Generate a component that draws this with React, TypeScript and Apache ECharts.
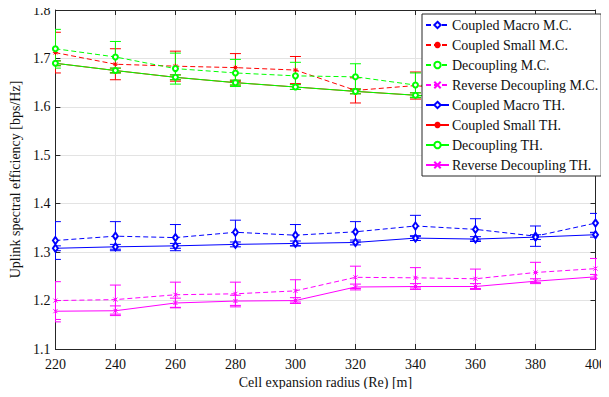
import React, { useEffect, useRef } from "react";
import * as echarts from "echarts";

const radii = [220, 240, 260, 280, 300, 320, 340, 360, 380, 400];

const coupledMacroMC = [1.324, 1.333, 1.33, 1.341, 1.335, 1.342, 1.354, 1.347, 1.333, 1.36];
const coupledMacroMCErr = [0.039, 0.03, 0.027, 0.025, 0.022, 0.021, 0.022, 0.022, 0.021, 0.02];
const coupledSmallMC = [1.712, 1.688, 1.684, 1.681, 1.676, 1.634, 1.644, 1.63, 1.625, 1.615];
const coupledSmallMCErr = [0.042, 0.032, 0.031, 0.029, 0.028, 0.026, 0.028, 0.027, 0.027, 0.027];
const decouplingMC = [1.72, 1.703, 1.679, 1.67, 1.664, 1.662, 1.645, 1.64, 1.636, 1.631];
const decouplingMCErr = [0.04, 0.032, 0.032, 0.028, 0.028, 0.027, 0.025, 0.026, 0.026, 0.028];
const reverseMC = [1.2, 1.202, 1.212, 1.214, 1.22, 1.248, 1.247, 1.245, 1.258, 1.266];
const reverseMCErr = [0.039, 0.03, 0.026, 0.024, 0.023, 0.023, 0.021, 0.02, 0.021, 0.021];

const coupledMacroTH = [1.308, 1.311, 1.313, 1.316, 1.318, 1.32, 1.329, 1.327, 1.331, 1.336];
const coupledMacroTHErr = [0.005, 0.005, 0.005, 0.005, 0.005, 0.005, 0.005, 0.005, 0.005, 0.005];
const coupledSmallTH = [1.69, 1.675, 1.661, 1.65, 1.641, 1.632, 1.624, 1.618, 1.614, 1.61];
const coupledSmallTHErr = [0.005, 0.005, 0.005, 0.005, 0.005, 0.005, 0.005, 0.005, 0.005, 0.005];
const decouplingTH = [1.69, 1.675, 1.661, 1.65, 1.641, 1.632, 1.624, 1.618, 1.614, 1.61];
const decouplingTHErr = [0.005, 0.005, 0.005, 0.005, 0.005, 0.005, 0.005, 0.005, 0.005, 0.005];
const reverseTH = [1.178, 1.179, 1.195, 1.199, 1.2, 1.228, 1.229, 1.229, 1.24, 1.249];
const reverseTHErr = [0.022, 0.01, 0.01, 0.012, 0.006, 0.006, 0.006, 0.006, 0.005, 0.005];

const seriesNames = [
  "Coupled Macro M.C.",
  "Coupled Small M.C.",
  "Decoupling M.C.",
  "Reverse Decoupling M.C.",
  "Coupled Macro TH.",
  "Coupled Small TH.",
  "Decoupling TH.",
  "Reverse Decoupling TH.",
];

const FONT = "'Liberation Serif', 'Times New Roman', serif";
const ASTERISK = "path://M5,0L5,10M0,5L10,5M1.5,1.5L8.5,8.5M8.5,1.5L1.5,8.5";
const CROSS = "path://M0,0L10,10M10,0L0,10";

export default function App() {
  const ref = useRef<HTMLDivElement>(null);
  useEffect(() => {
    if (!ref.current) return;
    const chart = echarts.init(ref.current, null, { renderer: "svg" });

    const defs = [
      { name: seriesNames[0], vals: coupledMacroMC, err: coupledMacroMCErr, color: "#0000ff", dashed: true, symbol: "emptyDiamond", size: [5, 7] },
      { name: seriesNames[1], vals: coupledSmallMC, err: coupledSmallMCErr, color: "#ff0000", dashed: true, symbol: ASTERISK, size: 5 },
      { name: seriesNames[2], vals: decouplingMC, err: decouplingMCErr, color: "#00ff00", dashed: true, symbol: "emptyCircle", size: 5 },
      { name: seriesNames[3], vals: reverseMC, err: reverseMCErr, color: "#ff00ff", dashed: true, symbol: CROSS, size: 4 },
      { name: seriesNames[4], vals: coupledMacroTH, err: coupledMacroTHErr, color: "#0000ff", dashed: false, symbol: "emptyDiamond", size: [5, 7] },
      { name: seriesNames[5], vals: coupledSmallTH, err: coupledSmallTHErr, color: "#ff0000", dashed: false, symbol: ASTERISK, size: 5 },
      { name: seriesNames[6], vals: decouplingTH, err: decouplingTHErr, color: "#00ff00", dashed: false, symbol: "emptyCircle", size: 5 },
      { name: seriesNames[7], vals: reverseTH, err: reverseTHErr, color: "#ff00ff", dashed: false, symbol: CROSS, size: 4 },
    ];

    const series: any[] = [];
    defs.forEach((d, i) => {
      series.push({
        name: "eb" + i,
        type: "custom",
        clip: true,
        z: 2,
        silent: true,
        data: radii.map((x, k) => [x, d.vals[k] - d.err[k], d.vals[k] + d.err[k]]),
        encode: { x: 0, y: [1, 2] },
        renderItem: (params: any, api: any) => {
          const x = api.value(0);
          const lo = api.coord([x, api.value(1)]);
          const hi = api.coord([x, api.value(2)]);
          const w = 5.5;
          const style = { stroke: d.color, lineWidth: 1 };
          return {
            type: "group",
            children: [
              { type: "line", shape: { x1: lo[0], y1: lo[1], x2: hi[0], y2: hi[1] }, style },
              { type: "line", shape: { x1: lo[0] - w, y1: lo[1], x2: lo[0] + w, y2: lo[1] }, style },
              { type: "line", shape: { x1: hi[0] - w, y1: hi[1], x2: hi[0] + w, y2: hi[1] }, style },
            ],
          };
        },
      });
      series.push({
        name: d.name,
        type: "line",
        z: 3,
        data: radii.map((x, k) => [x, d.vals[k]]),
        symbol: d.symbol,
        symbolSize: d.size,
        showSymbol: true,
        lineStyle: { color: d.color, width: 1, type: d.dashed ? [5, 3] : "solid" },
        itemStyle: { color: d.color, borderColor: d.color, borderWidth: 1 },
      });
    });

    const axisLine = { show: true, lineStyle: { color: "#262626", width: 1 } };
    const axisTick = { show: true, inside: true, length: 5, lineStyle: { color: "#262626" } };

    chart.setOption({
      animation: false,
      backgroundColor: "#ffffff",
      grid: { left: 48, right: 8, top: 10, bottom: 48, containLabel: false },
      legend: {
        data: seriesNames,
        orient: "vertical",
        left: 422,
        top: 14,
        padding: [4, 3, 4, 3],
        itemGap: 6,
        itemWidth: 23,
        itemHeight: 8,
        backgroundColor: "#ffffff",
        borderColor: "#262626",
        borderWidth: 1,
        borderRadius: 0,
        textStyle: { fontFamily: FONT, fontSize: 14, color: "#111", padding: [0, 0, 0, -2] },
      },
      xAxis: [
        {
          type: "value",
          min: 220,
          max: 400,
          interval: 20,
          name: "Cell expansion radius (Re) [m]",
          nameLocation: "middle",
          nameGap: 24,
          nameTextStyle: { fontFamily: FONT, fontSize: 14, color: "#111" },
          axisLine,
          axisTick,
          axisLabel: { fontFamily: FONT, fontSize: 14, color: "#111", margin: 8 },
          splitLine: { show: true, lineStyle: { color: "#e3e3e3", width: 1 } },
        },
        {
          type: "value",
          position: "top",
          min: 220,
          max: 400,
          interval: 20,
          axisLine,
          axisTick,
          axisLabel: { show: false },
          splitLine: { show: false },
        },
      ],
      yAxis: [
        {
          type: "value",
          min: 1.1,
          max: 1.8,
          interval: 0.1,
          name: "Uplink spectral efficiency [bps/Hz]",
          nameLocation: "middle",
          nameGap: 27,
          nameTextStyle: { fontFamily: FONT, fontSize: 14, color: "#111" },
          axisLine,
          axisTick,
          axisLabel: {
            fontFamily: FONT,
            fontSize: 14,
            color: "#111",
            margin: 5,
            formatter: (v: number) => v.toFixed(1),
          },
          splitLine: { show: true, lineStyle: { color: "#e3e3e3", width: 1 } },
        },
        {
          type: "value",
          position: "right",
          min: 1.1,
          max: 1.8,
          interval: 0.1,
          axisLine,
          axisTick,
          axisLabel: { show: false },
          splitLine: { show: false },
        },
      ],
      series,
    });

    return () => chart.dispose();
  }, []);

  return <div ref={ref} style={{ width: 609, height: 397, margin: -8 }} />;
}
